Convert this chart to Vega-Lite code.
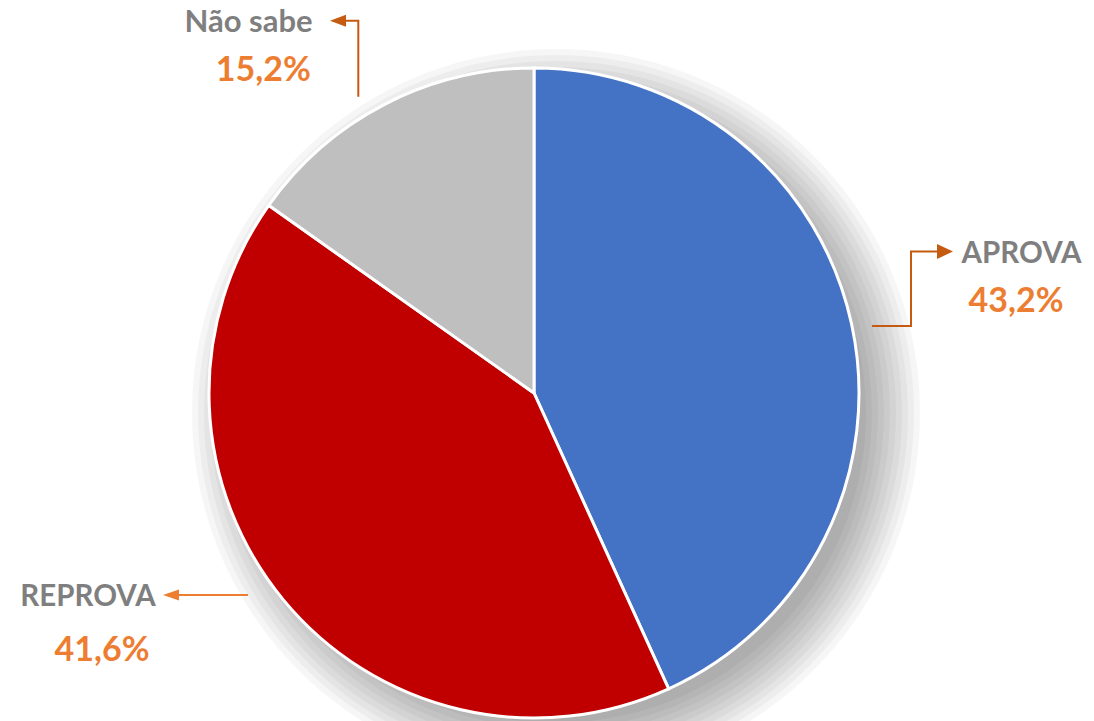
{
  "$schema": "https://vega.github.io/schema/vega-lite/v6.json",
  "width": 1068,
  "height": 650,
  "padding": {"left": 0, "top": 68, "right": 26, "bottom": 3},
  "autosize": {"type": "none"},
  "background": "#ffffff",
  "config": {
    "view": {"stroke": null},
    "locale": {"number": {"decimal": ",", "thousands": ".", "grouping": [3], "currency": ["R$ ", ""]}}
  },
  "data": {
    "values": [
      {"resposta": "APROVA", "fracao": 0.432},
      {"resposta": "REPROVA", "fracao": 0.416},
      {"resposta": "Não sabe", "fracao": 0.152}
    ]
  },
  "resolve": {"scale": {"shape": "independent"}},
  "layer": [
    {
      "data": {"values": [{"nivel": "a"}, {"nivel": "b"}, {"nivel": "c"}, {"nivel": "d"}, {"nivel": "e"}, {"nivel": "f"}, {"nivel": "g"}, {"nivel": "h"}, {"nivel": "i"}, {"nivel": "j"}]},
      "mark": {"type": "point", "filled": true, "color": "#000000", "opacity": 0.035, "size": 4, "strokeWidth": 0},
      "encoding": {
        "shape": {
          "field": "nivel", "type": "nominal", "legend": null,
          "scale": {
            "domain": ["a", "b", "c", "d", "e", "f", "g", "h", "i", "j"],
            "range": [
              "M -288 20 A 310 310 0 1 0 332 20 A 310 310 0 1 0 -288 20 Z",
              "M -294 20 A 316 316 0 1 0 338 20 A 316 316 0 1 0 -294 20 Z",
              "M -300 20 A 322 322 0 1 0 344 20 A 322 322 0 1 0 -300 20 Z",
              "M -306 20 A 328 328 0 1 0 350 20 A 328 328 0 1 0 -306 20 Z",
              "M -312 20 A 334 334 0 1 0 356 20 A 334 334 0 1 0 -312 20 Z",
              "M -318 20 A 340 340 0 1 0 362 20 A 340 340 0 1 0 -318 20 Z",
              "M -324 20 A 346 346 0 1 0 368 20 A 346 346 0 1 0 -324 20 Z",
              "M -330 20 A 352 352 0 1 0 374 20 A 352 352 0 1 0 -330 20 Z",
              "M -336 20 A 358 358 0 1 0 380 20 A 358 358 0 1 0 -336 20 Z",
              "M -342 20 A 364 364 0 1 0 386 20 A 364 364 0 1 0 -342 20 Z"
            ]
          }
        }
      }
    },
    {
      "mark": {"type": "arc", "outerRadius": 325, "stroke": "#ffffff", "strokeWidth": 3},
      "encoding": {
        "theta": {"field": "fracao", "type": "quantitative", "stack": true},
        "order": {"field": "fracao", "sort": "descending"},
        "color": {
          "field": "resposta", "type": "nominal", "legend": null,
          "scale": {"domain": ["APROVA", "REPROVA", "Não sabe"], "range": ["#4472C4", "#C00000", "#BFBFBF"]}
        }
      }
    },
    {
      "mark": {"type": "point", "filled": false, "size": 4, "strokeWidth": 2, "opacity": 1},
      "encoding": {
        "shape": {
          "field": "resposta", "type": "nominal", "legend": null,
          "scale": {
            "domain": ["APROVA", "REPROVA", "Não sabe"],
            "range": [
              "M 338 -67 L 377 -67 L 377 -141.5 L 404 -141.5",
              "M -286 202 L -356 202",
              "M -175.7 -296.3 L -175.7 -372.3 L -189 -372.3"
            ]
          }
        },
        "stroke": {
          "field": "resposta", "type": "nominal", "legend": null,
          "scale": {"domain": ["APROVA", "REPROVA", "Não sabe"], "range": ["#C55A11", "#ED7D31", "#C55A11"]}
        }
      }
    },
    {
      "mark": {"type": "point", "filled": true, "size": 4, "strokeWidth": 0, "opacity": 1},
      "encoding": {
        "shape": {
          "field": "resposta", "type": "nominal", "legend": null,
          "scale": {
            "domain": ["APROVA", "REPROVA", "Não sabe"],
            "range": [
              "M 419 -141.5 L 403 -149 L 403 -134 Z",
              "M -371 202 L -355 196.5 L -355 207.5 Z",
              "M -204 -372.3 L -188 -378.3 L -188 -366.3 Z"
            ]
          }
        },
        "fill": {
          "field": "resposta", "type": "nominal", "legend": null,
          "scale": {"domain": ["APROVA", "REPROVA", "Não sabe"], "range": ["#C55A11", "#ED7D31", "#C55A11"]}
        }
      }
    },
    {
      "transform": [{"filter": "datum.resposta === 'APROVA'"}],
      "mark": {"type": "text", "font": "Lato", "fontWeight": "bold", "fontSize": 29.5, "color": "#7F7F7F", "align": "center", "baseline": "alphabetic", "dx": 487.5, "dy": -130},
      "encoding": {"text": {"field": "resposta", "type": "nominal"}}
    },
    {
      "transform": [{"filter": "datum.resposta === 'APROVA'"}],
      "mark": {"type": "text", "font": "Lato", "fontWeight": "bold", "fontSize": 34, "color": "#ED7D31", "align": "center", "baseline": "alphabetic", "dx": 482, "dy": -81},
      "encoding": {"text": {"field": "fracao", "type": "quantitative", "format": ".1%"}}
    },
    {
      "transform": [{"filter": "datum.resposta === 'REPROVA'"}],
      "mark": {"type": "text", "font": "Lato", "fontWeight": "bold", "fontSize": 29.5, "color": "#7F7F7F", "align": "center", "baseline": "alphabetic", "dx": -446, "dy": 213},
      "encoding": {"text": {"field": "resposta", "type": "nominal"}}
    },
    {
      "transform": [{"filter": "datum.resposta === 'REPROVA'"}],
      "mark": {"type": "text", "font": "Lato", "fontWeight": "bold", "fontSize": 34, "color": "#ED7D31", "align": "center", "baseline": "alphabetic", "dx": -432, "dy": 267.7},
      "encoding": {"text": {"field": "fracao", "type": "quantitative", "format": ".1%"}}
    },
    {
      "transform": [{"filter": "datum.resposta === 'Não sabe'"}],
      "mark": {"type": "text", "font": "Lato", "fontWeight": "bold", "fontSize": 31, "color": "#7F7F7F", "align": "center", "baseline": "alphabetic", "dx": -285.5, "dy": -360.7},
      "encoding": {"text": {"field": "resposta", "type": "nominal"}}
    },
    {
      "transform": [{"filter": "datum.resposta === 'Não sabe'"}],
      "mark": {"type": "text", "font": "Lato", "fontWeight": "bold", "fontSize": 34, "color": "#ED7D31", "align": "center", "baseline": "alphabetic", "dx": -270.7, "dy": -312},
      "encoding": {"text": {"field": "fracao", "type": "quantitative", "format": ".1%"}}
    }
  ]
}
